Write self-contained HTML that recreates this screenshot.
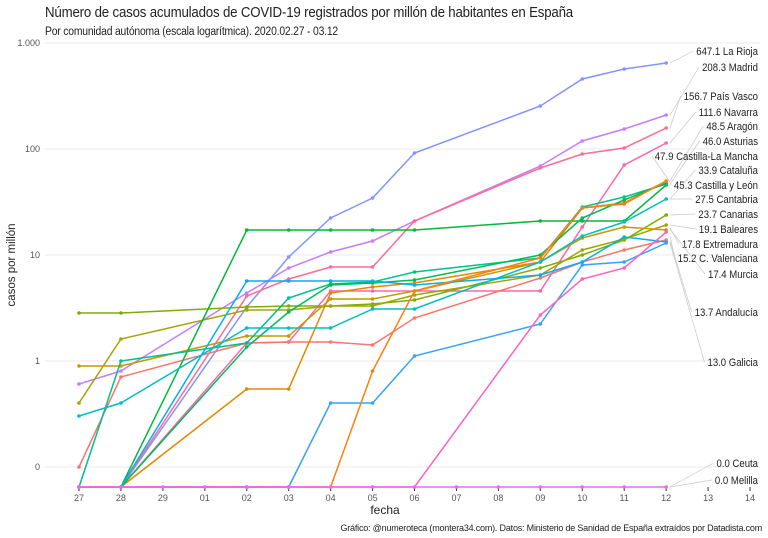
<!DOCTYPE html>
<html><head><meta charset="utf-8"><style>
body{margin:0;background:#fff;}
svg{display:block;font-family:"Liberation Sans",sans-serif;}
</style></head><body>
<svg id="s" width="768" height="538" viewBox="0 0 768 538" xmlns="http://www.w3.org/2000/svg">
<rect width="768" height="538" fill="#fff"/>
<text class="c" data-f="0.915" x="45" y="17" font-size="14.5" fill="#222" letter-spacing="-0.2">Número de casos acumulados de COVID-19 registrados por millón de habitantes en España</text>
<text class="c" data-f="0.9" x="45" y="35" font-size="11.5" fill="#222" letter-spacing="-0.2">Por comunidad autónoma (escala logarítmica). 2020.02.27 - 03.12</text>
<g stroke="#ebebeb" stroke-width="1">
<line x1="45" x2="760" y1="43" y2="43"/><line x1="45" x2="760" y1="149" y2="149"/>
<line x1="45" x2="760" y1="255" y2="255"/><line x1="45" x2="760" y1="361" y2="361"/>
<line x1="45" x2="760" y1="467" y2="467"/>
</g>
<g font-size="9" fill="#555" text-anchor="end">
<text x="40" y="46">1.000</text><text x="40" y="152">100</text><text x="40" y="258">10</text>
<text x="40" y="364">1</text><text x="40" y="470">0</text>
</g>
<text transform="translate(15,265) rotate(-90)" font-size="11.5" fill="#222" text-anchor="middle">casos por millón</text>
<text x="385" y="514" font-size="12" fill="#222" text-anchor="middle">fecha</text>
<text x="762" y="531" font-size="9" fill="#222" text-anchor="end" letter-spacing="-0.2">Gráfico: @numeroteca (montera34.com). Datos: Ministerio de Sanidad de España extraídos por Datadista.com</text>
<g id="ticks" font-size="9" fill="#555" text-anchor="middle"></g>
<g id="lines"></g>
<g id="labels" font-size="11" fill="#222" text-anchor="end"></g>
</svg>
<script>
var NS="http://www.w3.org/2000/svg";
function el(t,a,p,txt){var e=document.createElementNS(NS,t);for(var k in a)e.setAttribute(k,a[k]);if(txt)e.textContent=txt;p.appendChild(e);return e;}
document.querySelectorAll("text.c").forEach(function(t){var w=t.getComputedTextLength();t.setAttribute("textLength",(w*parseFloat(t.getAttribute("data-f"))).toFixed(1));t.setAttribute("lengthAdjust","spacingAndGlyphs");});
var X=function(i){return 79+i*41.94;};
var names=["27","28","29","01","02","03","04","05","06","07","08","09","10","11","12","13","14"];
var tg=document.getElementById("ticks");
names.forEach(function(n,i){el("line",{x1:X(i),x2:X(i),y1:487,y2:491,stroke:"#333","stroke-width":1},tg);el("text",{x:X(i),y:501},tg,n);});
var D=[0,1,4,5,6,7,8,11,12,13,14];
var S=[
["#8494FF",[487,487,307,257,218,198,153,106,79,69,63]],
["#C77CFF",[384,371,293,268,252,241,221,166,141,129,115]],
["#FF6C91",[487,487,296,279,267,267,221,168,154,148,128]],
["#FF65AC",[487,487,343,342,291,291,291,291,227,165,143]],
["#F8766D",[467,377,343,342,342,345,318,278,262,250,240]],
["#7CAE00",[313,313,307,306,306,304,300,268,255,240,215]],
["#A3A500",[403,339,310,310,306,306,295,275,250,239,225]],
["#C49A00",[366,366,336,336,299,299,291,262,238,227,230]],
["#E58700",[487,487,389,389,293,287,283,262,208,203,181]],
["#00BA38",[487,487,230,230,230,230,230,221,221,221,185]],
["#00C08B",[487,361,343,298,284,282,272,258,207,197,184]],
["#00BC56",[487,487,347,312,285,283,280,255,218,200,183]],
["#00BFC4",[416,403,328,328,328,309,309,262,236,222,199]],
["#00B0F6",[487,487,281,281,281,281,285,275,262,237,242]],
["#35A2FF",[487,487,487,487,403,403,356,324,265,262,243]],
["#FF7F0E",[487,487,487,487,487,371,291,258,208,204,181]],
["#FF61C3",[487,487,487,487,487,487,487,315,279,268,232]],
["#E76BF3",[487,487,487,487,487,487,487,487,487,487,487]]
];
var lg=document.getElementById("lines");
S.forEach(function(s){
 var days=D, ys=s[1];
 if(s[0]=="#E76BF3"){days=[];ys=[];for(var i=0;i<=14;i++){days.push(i);ys.push(487);}}
 var pts=days.map(function(d,i){return X(d).toFixed(1)+","+ys[i];}).join(" ");
 el("polyline",{points:pts,fill:"none",stroke:s[0],"stroke-width":1.5},lg);
 days.forEach(function(d,i){el("circle",{cx:X(d),cy:ys[i],r:1.8,fill:s[0]},lg);});
});
var L=[["647.1 La Rioja",51,63],["208.3 Madrid",67,115],["156.7 País Vasco",96,128],["111.6 Navarra",112,143],
["48.5 Aragón",126,181],["46.0 Asturias",141,184],["47.9 Castilla-La Mancha",156,182],["33.9 Cataluña",170,199],
["45.3 Castilla y León",185,184],["27.5 Cantabria",199,199],["23.7 Canarias",214,215],["19.1 Baleares",229,225],
["17.8 Extremadura",244,228],["15.2 C. Valenciana",258,236],["17.4 Murcia",274,229],["13.7 Andalucía",312,241],
["13.0 Galicia",362,243],["0.0 Ceuta",463,487],["0.0 Melilla",480,487]];
var lb=document.getElementById("labels");
L.forEach(function(l){
 var t=el("text",{x:758,y:l[1]+4},lb,l[0]);
 var w=t.getComputedTextLength()*0.87;
 t.setAttribute("textLength",w.toFixed(1));t.setAttribute("lengthAdjust","spacingAndGlyphs");
 el("line",{x1:670,y1:l[2],x2:758-w-3,y2:l[1],stroke:"#c8c8c8","stroke-width":0.7},lb);
});
</script>
</body></html>
